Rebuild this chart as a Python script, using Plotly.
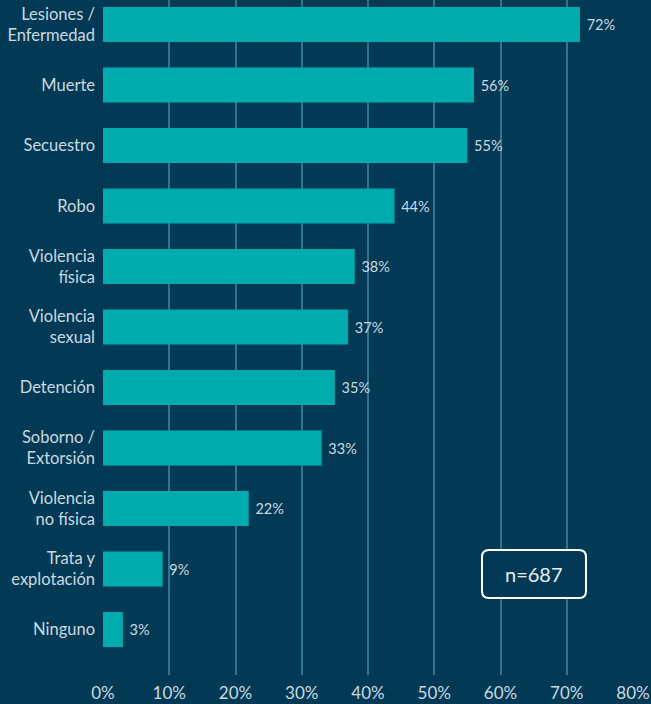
import plotly.graph_objects as go

categories = ["Lesiones /<br>Enfermedad", "Muerte", "Secuestro", "Robo", "Violencia<br>física",
              "Violencia<br>sexual", "Detención", "Soborno /<br>Extorsión", "Violencia<br>no física",
              "Trata y<br>explotación", "Ninguno"]
values = [72, 56, 55, 44, 38, 37, 35, 33, 22, 9, 3]
tick_vals = [0, 10, 20, 30, 40, 50, 60, 70, 80]
tick_text = ["0%", "10%", "20%", "30%", "40%", "50%", "60%", "70%", "80%"]
n_label = "n=687"

BG = "#023A56"
BAR = "#00ABAD"
GRID = "#2F7592"
TXT = "#CBD8E0"
FONT = "Lato"

fig = go.Figure(go.Bar(
    x=values, y=categories, orientation="h",
    marker=dict(color=BAR, line=dict(width=0)),
    width=0.58,
    text=[f"\u00a0{v}%" for v in values], textposition="outside",
    textfont=dict(color=TXT, size=14.5, family=FONT),
    cliponaxis=False,
))

W, H = 651, 704
ml, mr, mt, mb = 103, 18, 0, 29
pw, ph = W - ml - mr, H - mt - mb

fig.update_layout(
    width=W, height=H,
    margin=dict(l=ml, r=mr, t=mt, b=mb, pad=0),
    paper_bgcolor=BG, plot_bgcolor=BG,
    font=dict(family=FONT, color=TXT, size=16),
    showlegend=False,
    xaxis=dict(range=[0, 80], tickvals=tick_vals, ticktext=tick_text,
               showgrid=True, gridcolor=GRID, gridwidth=2, zeroline=False,
               showline=False, ticks="", tickfont=dict(size=17, color=TXT),
               ticklabelstandoff=6, fixedrange=True),
    yaxis=dict(categoryorder="array", categoryarray=categories,
               range=[10.752, -0.405], showgrid=False, zeroline=False,
               ticks="", ticklen=0, tickfont=dict(size=16.5, color=TXT),
               ticklabelstandoff=7, fixedrange=True),
)

# rounded box for the n annotation (pixel -> paper)
def px(x):
    return (x - ml) / pw

def py(y):
    return (H - mb - y) / ph

x0, x1, y0, y1, r = 482, 586, 550, 598, 7
path = (f"M {px(x0 + r)} {py(y0)} L {px(x1 - r)} {py(y0)} "
        f"Q {px(x1)} {py(y0)} {px(x1)} {py(y0 + r)} "
        f"L {px(x1)} {py(y1 - r)} Q {px(x1)} {py(y1)} {px(x1 - r)} {py(y1)} "
        f"L {px(x0 + r)} {py(y1)} Q {px(x0)} {py(y1)} {px(x0)} {py(y1 - r)} "
        f"L {px(x0)} {py(y0 + r)} Q {px(x0)} {py(y0)} {px(x0 + r)} {py(y0)} Z")
fig.add_shape(type="path", path=path, xref="paper", yref="paper",
              line=dict(color="white", width=2), fillcolor=BG, layer="above")
fig.add_annotation(x=px((x0 + x1) / 2), y=py((y0 + y1) / 2), xref="paper", yref="paper",
                   xanchor="center", yanchor="middle",
                   text=n_label, showarrow=False,
                   font=dict(size=20, color="#E6EEF2", family=FONT))

fig.write_html("out.html", config={"displayModeBar": False},
               post_script="document.body.style.margin='0';document.body.style.background='%s';" % BG)
